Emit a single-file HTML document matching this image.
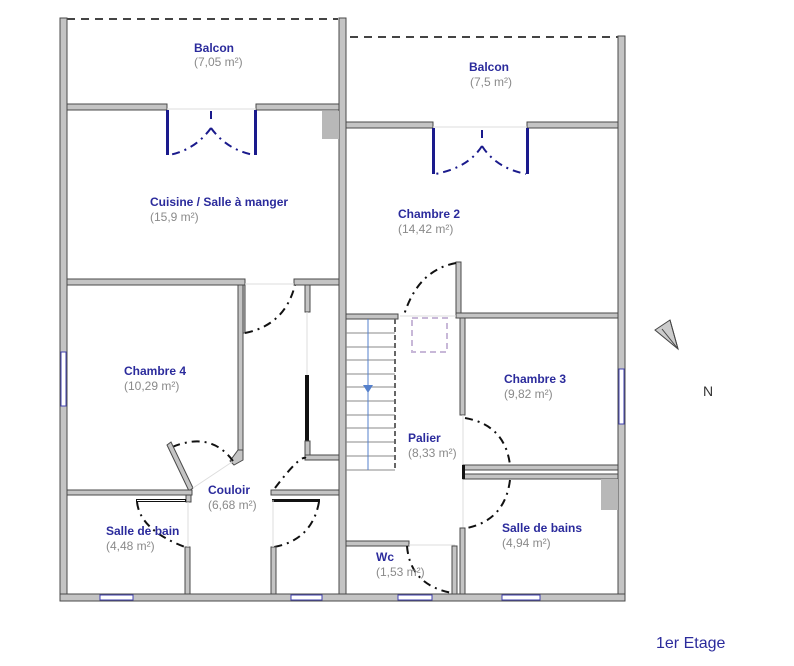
<!DOCTYPE html>
<html><head><meta charset="utf-8"><style>
html,body{margin:0;padding:0;background:#fff;}
svg{display:block;}
.w{fill:#c4c4c4;stroke:#4a4a4a;stroke-width:1;}
.t{font-family:"Liberation Sans",sans-serif;font-weight:bold;font-size:12px;fill:#2b2b9c;}
.a{font-family:"Liberation Sans",sans-serif;font-size:12px;fill:#8a8a8a;}
.d{fill:none;stroke:#111;stroke-width:2;stroke-dasharray:8,5,2,5;}
.db{fill:none;stroke:#1a1a8c;stroke-width:2;stroke-dasharray:8,5,2,5;}
.win{fill:#fff;stroke:#4040b0;stroke-width:1;}
.thin{stroke:#ddd;stroke-width:1;}
</style></head><body>
<svg width="794" height="666" viewBox="0 0 794 666" xmlns="http://www.w3.org/2000/svg">
<!-- balcony dashed -->
<line x1="67" y1="19" x2="338" y2="19" stroke="#444" stroke-width="2" stroke-dasharray="8,6"/>
<line x1="350" y1="37" x2="618" y2="37" stroke="#444" stroke-width="2" stroke-dasharray="8,6"/>
<!-- outer walls -->
<rect class="w" x="60" y="18" width="7" height="583"/>
<rect class="w" x="339" y="18" width="7" height="580"/>
<rect class="w" x="618" y="36" width="7" height="565"/>
<rect class="w" x="60" y="594" width="565" height="7"/>
<!-- windows -->
<rect class="win" x="100" y="595" width="33" height="5"/>
<rect class="win" x="291" y="595" width="31" height="5"/>
<rect class="win" x="398" y="595" width="34" height="5"/>
<rect class="win" x="502" y="595" width="38" height="5"/>
<rect class="win" x="61" y="352" width="5" height="54"/>
<rect class="win" x="619" y="369" width="5" height="55"/>
<!-- kitchen top wall -->
<rect class="w" x="67" y="104" width="100" height="6"/>
<rect class="w" x="256" y="104" width="83" height="6"/>
<line x1="167" y1="109" x2="256" y2="109" class="thin"/>
<rect fill="#1a1a8c" x="166" y="110" width="3" height="45"/>
<rect fill="#1a1a8c" x="254" y="110" width="3" height="45"/>
<path class="db" d="M211 111 L211 122 M211 128 Q195 150 169 155 M211 128 Q227 150 254 155"/>
<rect fill="#b8b8b8" x="322" y="111" width="17" height="28"/>
<!-- right balcony bottom -->
<rect class="w" x="346" y="122" width="87" height="6"/>
<rect class="w" x="527" y="122" width="91" height="6"/>
<line x1="433" y1="127" x2="527" y2="127" class="thin"/>
<rect fill="#1a1a8c" x="432" y="128" width="3" height="46"/>
<rect fill="#1a1a8c" x="526" y="128" width="3" height="46"/>
<path class="db" d="M482 130 L482 140 M482 146 Q468 168 435 174 M482 146 Q496 168 526 174"/>
<!-- kitchen bottom wall -->
<rect class="w" x="67" y="279" width="178" height="6"/>
<rect class="w" x="294" y="279" width="45" height="6"/>
<line x1="245" y1="284" x2="294" y2="284" class="thin"/>
<rect class="w" x="240" y="285" width="5" height="48"/>
<path class="d" d="M245 333 Q285 325 295 285"/>
<rect class="w" x="305" y="285" width="5" height="27"/>
<line x1="307" y1="312" x2="307" y2="375" class="thin"/>
<rect fill="#111" x="305" y="375" width="4" height="66"/>
<rect class="w" x="305" y="441" width="5" height="17"/>
<rect class="w" x="305" y="455" width="34" height="5"/>
<!-- chambre 4 right wall -->
<rect class="w" x="238" y="285" width="5" height="165"/>
<polygon class="w" points="238,450 243,450 243,460 234,465 230,461"/>
<path class="d" d="M233 461 Q210 430 170 448"/>
<polygon class="w" points="167,445 171,442 193,488 189,491"/>
<line x1="193" y1="488" x2="232" y2="462" class="thin"/>
<!-- chambre 4 bottom -->
<rect class="w" x="67" y="490" width="125" height="5"/>
<rect class="w" x="186" y="495" width="5" height="7"/>
<rect fill="#111" x="136" y="499" width="50" height="3"/>
<rect fill="#fff" x="137" y="500" width="48" height="1"/>
<path class="d" d="M137 502 Q140 530 185 547"/>
<rect class="w" x="185" y="547" width="5" height="47"/>
<line x1="188" y1="502" x2="188" y2="547" class="thin"/>
<!-- couloir right lower -->
<rect class="w" x="271" y="490" width="68" height="5"/>
<rect fill="#111" x="272" y="499" width="48" height="3"/>
<path class="d" d="M319 502 Q312 540 274 547"/>
<rect class="w" x="271" y="547" width="5" height="47"/>
<line x1="273" y1="500" x2="273" y2="547" class="thin"/>
<path class="d" d="M275 488 Q300 455 306 458"/>
<!-- stairs -->
<rect class="w" x="346" y="314" width="52" height="5"/>
<g stroke="#888" stroke-width="1">
<line x1="346" y1="333" x2="395" y2="333"/><line x1="346" y1="347" x2="395" y2="347"/>
<line x1="346" y1="360" x2="395" y2="360"/><line x1="346" y1="374" x2="395" y2="374"/>
<line x1="346" y1="387" x2="395" y2="387"/><line x1="346" y1="401" x2="395" y2="401"/>
<line x1="346" y1="415" x2="395" y2="415"/><line x1="346" y1="428" x2="395" y2="428"/>
<line x1="346" y1="442" x2="395" y2="442"/><line x1="346" y1="456" x2="395" y2="456"/>
<line x1="346" y1="470" x2="395" y2="470"/>
</g>
<line x1="395" y1="319" x2="395" y2="470" stroke="#666" stroke-width="2" stroke-dasharray="5,3"/>
<line x1="368" y1="319" x2="368" y2="470" stroke="#5580cc" stroke-width="1"/>
<polygon points="363,385 373,385 368,393" fill="#5580cc"/>
<rect x="412" y="318" width="35" height="34" fill="none" stroke="#c8b8d8" stroke-width="2" stroke-dasharray="6,4"/>
<!-- chambre 2 bottom -->
<rect class="w" x="456" y="262" width="5" height="54"/>
<path class="d" d="M456 263 Q418 270 404 315"/>
<rect class="w" x="456" y="313" width="162" height="5"/>
<line x1="400" y1="316" x2="456" y2="316" class="thin"/>
<rect class="w" x="460" y="318" width="5" height="97"/>
<path class="d" d="M465 418 Q505 425 510 465"/>
<line x1="463" y1="415" x2="463" y2="530" class="thin"/>
<rect class="w" x="463" y="465" width="155" height="5"/>
<rect class="w" x="463" y="474" width="155" height="5"/>
<rect fill="#111" x="462" y="465" width="3" height="14"/>
<path class="d" d="M510 480 Q505 520 467 528"/>
<rect fill="#b8b8b8" x="601" y="479" width="17" height="31"/>
<rect class="w" x="460" y="528" width="5" height="66"/>
<!-- wc -->
<rect class="w" x="346" y="541" width="63" height="5"/>
<rect class="w" x="452" y="546" width="5" height="48"/>
<line x1="409" y1="545" x2="455" y2="545" class="thin"/>
<path class="d" d="M407 546 Q410 585 452 593"/>
<!-- labels -->
<text class="t" x="194" y="52">Balcon</text><text class="a" x="194" y="66">(7,05 m²)</text>
<text class="t" x="469" y="71">Balcon</text><text class="a" x="470" y="86">(7,5 m²)</text>
<text class="t" x="150" y="206">Cuisine / Salle à manger</text><text class="a" x="150" y="221">(15,9 m²)</text>
<text class="t" x="398" y="218">Chambre 2</text><text class="a" x="398" y="233">(14,42 m²)</text>
<text class="t" x="124" y="375">Chambre 4</text><text class="a" x="124" y="390">(10,29 m²)</text>
<text class="t" x="504" y="383">Chambre 3</text><text class="a" x="504" y="398">(9,82 m²)</text>
<text class="t" x="408" y="442">Palier</text><text class="a" x="408" y="457">(8,33 m²)</text>
<text class="t" x="208" y="494">Couloir</text><text class="a" x="208" y="509">(6,68 m²)</text>
<text class="t" x="106" y="535">Salle de bain</text><text class="a" x="106" y="550">(4,48 m²)</text>
<text class="t" x="502" y="532">Salle de bains</text><text class="a" x="502" y="547">(4,94 m²)</text>
<text class="t" x="376" y="561">Wc</text><text class="a" x="376" y="576">(1,53 m²)</text>
<!-- compass -->
<polygon points="655,330 670,320 678,349" fill="#ccc" stroke="#444" stroke-width="1"/>
<line x1="670" y1="320" x2="678" y2="349" stroke="#444"/>
<line x1="662" y1="329" x2="678" y2="349" stroke="#444"/>
<text x="703" y="396" font-family="Liberation Sans,sans-serif" font-size="14" fill="#333">N</text>
<text x="656" y="648" font-family="Liberation Sans,sans-serif" font-size="16" fill="#2b2b9c">1er Etage</text>
</svg>
</body></html>
